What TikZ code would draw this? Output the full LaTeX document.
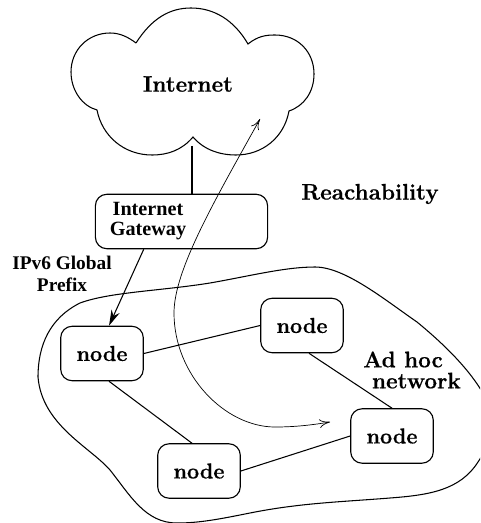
\documentclass[tikz,border=0pt]{standalone}
\usepackage{fontspec}
\newfontfamily\timesbold[BoldFont=Liberation Serif Bold]{Liberation Serif}
\newfontfamily\heavyfont[Extension=.otf,FakeBold=0.6]{lmroman12-bold}
\usetikzlibrary{arrows.meta}
\tikzset{
  hostbox/.style={draw,rounded corners=6.5pt,line width=0.65pt,minimum width=47pt,minimum height=31pt,inner sep=0pt,font=\fontsize{12.3}{14}\heavyfont},
  smalltext/.style={align=center,font=\fontsize{11.5}{11}\timesbold\bfseries,inner sep=0pt},
  prefixtext/.style={align=center,font=\fontsize{11}{12.5}\timesbold\bfseries,inner sep=0pt},
  bigtext/.style={font=\fontsize{12.8}{14}\heavyfont,inner sep=0pt},
  link/.style={line width=0.6pt},
  outline/.style={line width=0.6pt}
}

\begin{document}
\begin{tikzpicture}[x=0.02cm,y=-0.02cm]

  \clip (0,0) rectangle (480,523);

  \draw[outline] (136,43) .. controls (152,18) and (170,8) .. (191,8)
    .. controls (214,8) and (234,20) .. (248,44)
    .. controls (258,36) and (266,35) .. (275,35)
    .. controls (298,35) and (314,52) .. (314,74)
    .. controls (314,92) and (304,106) .. (289,111)
    .. controls (284,138) and (262,155) .. (236,155)
    .. controls (220,155) and (204,150) .. (193,137)
    .. controls (182,150) and (168,155) .. (152,155)
    .. controls (124,155) and (102,136) .. (97,110)
    .. controls (82,106) and (71,90) .. (71,72)
    .. controls (71,50) and (88,33) .. (110,33)
    .. controls (120,33) and (128,37) .. (136,43);

  \draw[outline] (38,377) .. controls (38,345) and (50,318) .. (80,303)
    .. controls (110,292) and (160,291) .. (210,283)
    .. controls (250,276) and (285,267) .. (315,267)
    .. controls (345,267) and (385,300) .. (417,322)
    .. controls (445,345) and (470,370) .. (484,395)
    .. controls (492,420) and (490,445) .. (478,462)
    .. controls (460,490) and (430,495) .. (390,498)
    .. controls (340,502) and (300,503) .. (250,513)
    .. controls (220,519) and (200,523) .. (177,523)
    .. controls (145,523) and (130,495) .. (110,470)
    .. controls (90,447) and (42,425) .. (38,377);

  \node[bigtext] (internet) at (188,84) {Internet};
  \node[bigtext] (reach) at (370,194) {Reachability};
  \node[smalltext] (gwlabel) at (148,221) {Internet\\Gateway};
  \node[prefixtext] (prefix) at (62,274) {IPv6 Global\\Prefix};
  \node[bigtext,align=left] (adhoc) at (412,370) {Ad hoc\\[-2pt]\hspace*{5pt}network};

  \node[hostbox,minimum width=98pt] (gateway) at (181.5,221.5) {};
  \node[hostbox] (node1) at (102,353.5) {node};
  \node[hostbox] (node2) at (302,325.5) {node};
  \node[hostbox] (node3) at (392,436) {node};
  \node[hostbox] (node4) at (199,471) {node};

  \coordinate (cloudfoot) at (192,146);
  \coordinate (inettip) at (260,119);
  \coordinate (nettip) at (330,422);

  \draw[link] (cloudfoot) -- (gateway.north -| cloudfoot);
  \draw[link,-{Stealth[length=9pt,width=5pt]}] ([xshift=-21.5pt]gateway.south) -- ([xshift=4pt]node1.north);
  \draw[link] (node1.east) -- (node2.west);
  \draw[link] ([xshift=4pt]node2.south) -- (node3.north);
  \draw[link] ([xshift=4pt]node1.south) -- ([xshift=-4pt]node4.north);
  \draw[link] (node4.east) -- (node3.west);

  \draw[line width=0.4pt,{To[length=6pt,width=5pt]}-{To[length=6pt,width=5pt]}] (inettip)
    .. controls (215,200) and (174,270) .. (174,313)
    .. controls (174,375) and (225,427) .. (275,427)
    .. controls (295,427) and (312,425) .. (nettip);

\end{tikzpicture}
\end{document}
